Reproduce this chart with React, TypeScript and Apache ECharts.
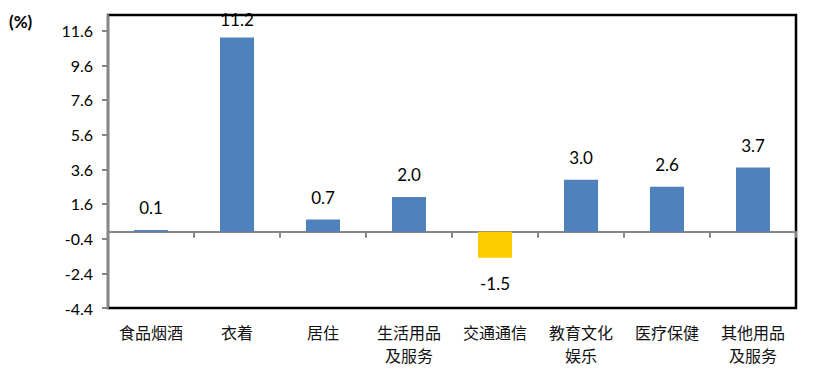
import React, { useEffect, useRef } from "react";
import * as echarts from "echarts";

const categories = ["食品烟酒", "衣着", "居住", "生活用品\n及服务", "交通通信", "教育文化\n娱乐", "医疗保健", "其他用品\n及服务"];
const values = [0.1, 11.2, 0.7, 2.0, -1.5, 3.0, 2.6, 3.7];
const yTicks = [-4.4, -2.4, -0.4, 1.6, 3.6, 5.6, 7.6, 9.6, 11.6];
const unitLabel = "(%)";

export default function App() {
  const ref = useRef<HTMLDivElement>(null);
  useEffect(() => {
    if (!ref.current) return;
    const chart = echarts.init(ref.current, null, { renderer: "svg" });
    const numFont = "Lato, 'Open Sans', sans-serif";
    chart.setOption({
      animation: false,
      backgroundColor: "#fff",
      grid: {
        left: 108,
        right: 35,
        top: 15,
        bottom: 64,
        show: true,
        borderColor: "#000",
        borderWidth: 2.5,
        backgroundColor: "transparent",
      },
      graphic: [
        {
          type: "text",
          left: 9,
          top: 13,
          style: { text: unitLabel, font: "bold 17px Lato, sans-serif", fill: "#000" },
        },
      ],
      xAxis: [
        {
          type: "category",
          data: categories,
          position: "bottom",
          axisLine: { show: false, onZero: false },
          axisTick: { show: false },
          splitLine: { show: false },
          axisLabel: {
            interval: 0,
            margin: 12,
            fontSize: 16,
            lineHeight: 23,
            color: "#111",
            fontFamily: "'Noto Sans CJK SC', sans-serif",
          },
        },
        {
          type: "category",
          data: categories,
          position: "bottom",
          axisLine: { show: true, onZero: true, lineStyle: { color: "#868686", width: 2 } },
          axisTick: { show: true, length: 6, lineStyle: { color: "#868686", width: 2 } },
          axisLabel: { show: false },
          splitLine: { show: false },
        },
      ],
      yAxis: {
        type: "value",
        min: -4.4,
        max: 12.5,
        interval: 2,
        axisLine: { show: true, lineStyle: { color: "#868686", width: 2 } },
        axisTick: { show: true, length: 6, customValues: yTicks, lineStyle: { color: "#868686", width: 2 } },
        splitLine: { show: false },
        axisLabel: {
          customValues: yTicks,
          margin: 15,
          fontSize: 16,
          color: "#000",
          fontFamily: numFont,
          formatter: (v: number) => v.toFixed(1),
        },
      },
      series: [
        {
          type: "bar",
          xAxisIndex: 0,
          barWidth: 34,
          data: values.map((v) => ({
            value: v,
            itemStyle: { color: v < 0 ? "#FFCC00" : "#4F81BD" },
            label: {
              position: v < 0 ? "bottom" : "top",
              distance: v < 0 ? 17 : v > 10 ? 10 : 14,
            },
          })),
          label: {
            show: true,
            fontSize: 17,
            color: "#000",
            fontFamily: numFont,
            formatter: (p: any) => Number(p.value).toFixed(1),
          },
        },
      ],
    });
    return () => chart.dispose();
  }, []);
  return <div ref={ref} style={{ position: "fixed", left: 0, top: 0, width: 831, height: 372 }} />;
}
